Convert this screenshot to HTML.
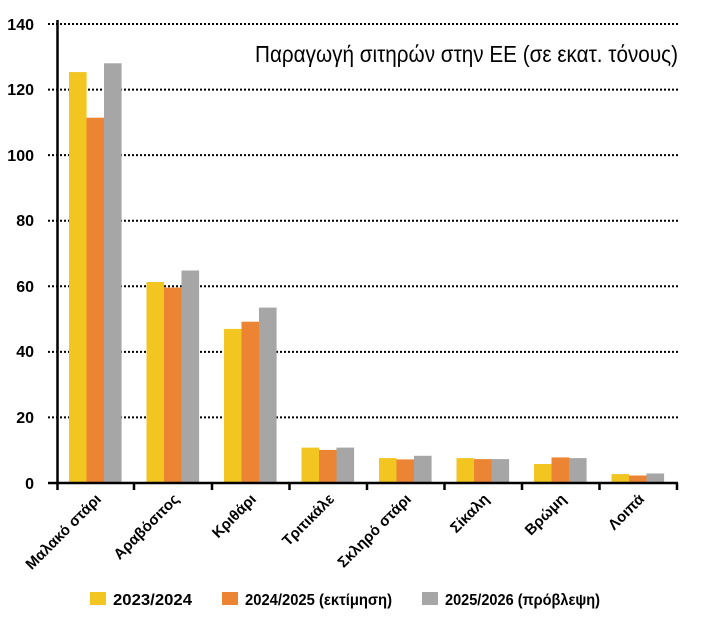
<!DOCTYPE html>
<html><head><meta charset="utf-8"><style>
html,body{margin:0;padding:0;background:#fff}
svg{display:block}
text{font-family:"Liberation Sans Narrow","Liberation Sans","DejaVu Sans Condensed",sans-serif}
</style></head><body>
<svg width="719" height="617" viewBox="0 0 719 617" xmlns="http://www.w3.org/2000/svg">
<g stroke="#000" stroke-width="2" stroke-dasharray="2,2">
<line x1="48" y1="24" x2="680" y2="24"/>
<line x1="48" y1="89.6" x2="680" y2="89.6"/>
<line x1="48" y1="155.1" x2="680" y2="155.1"/>
<line x1="48" y1="220.7" x2="680" y2="220.7"/>
<line x1="48" y1="286.3" x2="680" y2="286.3"/>
<line x1="48" y1="351.9" x2="680" y2="351.9"/>
<line x1="48" y1="417.4" x2="680" y2="417.4"/>
</g>
<g font-size="16" font-weight="bold" text-anchor="end" fill="#000">
<text x="34" y="30">140</text><text x="34" y="95">120</text><text x="34" y="161">100</text>
<text x="34" y="226">80</text><text x="34" y="292">60</text><text x="34" y="357">40</text>
<text x="34" y="423">20</text><text x="34" y="489">0</text>
</g>
<g>
<rect x="69" y="72.1" width="17.6" height="410.9" fill="#f2c521"/>
<rect x="86.5" y="117.7" width="17.6" height="365.3" fill="#ec8533"/>
<rect x="104" y="63.3" width="17.6" height="419.7" fill="#a6a6a6"/>
<rect x="146.5" y="282" width="17.6" height="201" fill="#f2c521"/>
<rect x="164" y="287.6" width="17.6" height="195.4" fill="#ec8533"/>
<rect x="181.5" y="270.5" width="17.6" height="212.5" fill="#a6a6a6"/>
<rect x="224" y="328.9" width="17.6" height="154.1" fill="#f2c521"/>
<rect x="241.5" y="321.7" width="17.6" height="161.3" fill="#ec8533"/>
<rect x="259" y="307.6" width="17.6" height="175.4" fill="#a6a6a6"/>
<rect x="301.5" y="447.6" width="17.6" height="35.4" fill="#f2c521"/>
<rect x="319" y="449.9" width="17.6" height="33.1" fill="#ec8533"/>
<rect x="336.5" y="447.6" width="17.6" height="35.4" fill="#a6a6a6"/>
<rect x="379" y="458.1" width="17.6" height="24.9" fill="#f2c521"/>
<rect x="396.5" y="459.4" width="17.6" height="23.6" fill="#ec8533"/>
<rect x="414" y="455.8" width="17.6" height="27.2" fill="#a6a6a6"/>
<rect x="456.5" y="458.1" width="17.6" height="24.9" fill="#f2c521"/>
<rect x="474" y="459.1" width="17.6" height="23.9" fill="#ec8533"/>
<rect x="491.5" y="459.1" width="17.6" height="23.9" fill="#a6a6a6"/>
<rect x="534" y="464" width="17.6" height="19" fill="#f2c521"/>
<rect x="551.5" y="457.4" width="17.6" height="25.6" fill="#ec8533"/>
<rect x="569" y="458.1" width="17.6" height="24.9" fill="#a6a6a6"/>
<rect x="611.5" y="474.1" width="17.6" height="8.9" fill="#f2c521"/>
<rect x="629" y="475.5" width="17.6" height="7.5" fill="#ec8533"/>
<rect x="646.5" y="473.5" width="17.6" height="9.5" fill="#a6a6a6"/>
</g>
<line x1="57.5" y1="20" x2="57.5" y2="484" stroke="#000" stroke-width="2.5"/>
<line x1="48" y1="483" x2="678" y2="483" stroke="#000" stroke-width="2.5"/>
<g stroke="#000" stroke-width="2.5">
<line x1="57.5" y1="483" x2="57.5" y2="490"/><line x1="134" y1="483" x2="134" y2="490"/>
<line x1="212" y1="483" x2="212" y2="490"/><line x1="289.5" y1="483" x2="289.5" y2="490"/>
<line x1="367" y1="483" x2="367" y2="490"/><line x1="444.5" y1="483" x2="444.5" y2="490"/>
<line x1="522" y1="483" x2="522" y2="490"/><line x1="599.5" y1="483" x2="599.5" y2="490"/>
<line x1="677" y1="483" x2="677" y2="490"/>
</g>
<g font-size="15" font-weight="bold" text-anchor="end" fill="#000">
<text transform="translate(102,500) rotate(-45)">Μαλακό στάρι</text>
<text transform="translate(180,500) rotate(-45)">Αραβόσιτος</text>
<text transform="translate(257,500) rotate(-45)">Κριθάρι</text>
<text transform="translate(335,500) rotate(-45)">Τριτικάλε</text>
<text transform="translate(412,500) rotate(-45)">Σκληρό στάρι</text>
<text transform="translate(490,500) rotate(-45)">Σίκαλη</text>
<text transform="translate(567,500) rotate(-45)">Βρώμη</text>
<text transform="translate(645,500) rotate(-45)">Λοιπά</text>
</g>
<text x="255" y="62" font-size="23" textLength="423" lengthAdjust="spacingAndGlyphs" fill="#000">Παραγωγή σιτηρών στην ΕΕ (σε εκατ. τόνους)</text>
<rect x="90" y="592" width="16" height="13" fill="#f2c521"/>
<rect x="222" y="592" width="16" height="13" fill="#ec8533"/>
<rect x="422" y="592" width="16" height="13" fill="#a6a6a6"/>
<g font-size="16" font-weight="bold" fill="#000">
<text x="113" y="605" textLength="79" lengthAdjust="spacingAndGlyphs">2023/2024</text>
<text x="245" y="605" textLength="147" lengthAdjust="spacingAndGlyphs">2024/2025 (εκτίμηση)</text>
<text x="445" y="605" textLength="155" lengthAdjust="spacingAndGlyphs">2025/2026 (πρόβλεψη)</text>
</g>
</svg>
</body></html>
